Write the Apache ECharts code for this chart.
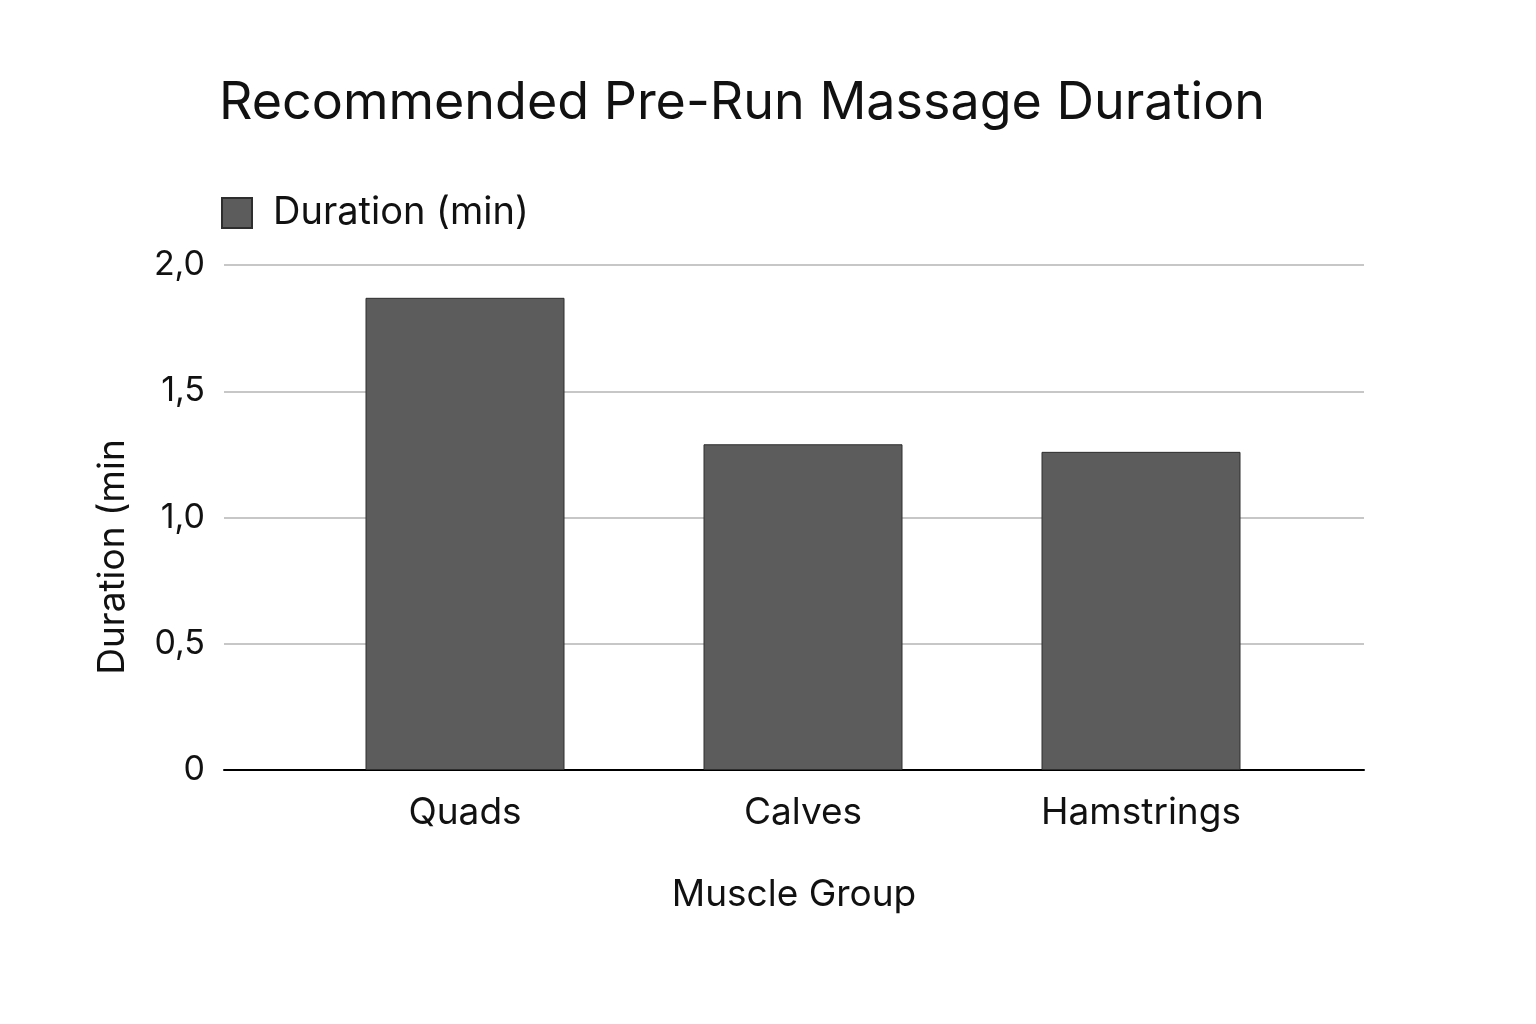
<!DOCTYPE html>
<html>
<head>
<meta charset="utf-8">
<script src="https://cdn.jsdelivr.net/npm/echarts@6/dist/echarts.min.js"></script>
<style>html,body{margin:0;padding:0;background:#fff;}#c{width:1536px;height:1024px;}</style>
</head>
<body>
<div id="c"></div>
<script>
const categories = ['Quads', 'Calves', 'Hamstrings'];
const durations = [1.87, 1.29, 1.26];
const seriesName = 'Duration (min)';
const yTicks = { min: 0, max: 2, interval: 0.5 };

const FONT = 'Inter, "Noto Sans", sans-serif';
const chart = echarts.init(document.getElementById('c'));
chart.setOption({
  backgroundColor: '#ffffff',
  animation: false,
  textStyle: { fontFamily: FONT },
  title: {
    text: 'Recommended Pre-Run Massage Duration',
    left: 214, top: 72,
    textStyle: { fontFamily: FONT, fontSize: 52, fontWeight: 'normal', color: '#111' }
  },
  legend: {
    left: 221, top: 194, padding: 0,
    itemWidth: 30, itemHeight: 30,
    icon: 'rect',
    data: [seriesName],
    textStyle: { fontFamily: FONT, fontSize: 38, color: '#111', padding: [0, 0, 0, 16] }
  },
  graphic: [{
    type: 'text',
    x: 113, y: 557,
    rotation: Math.PI / 2,
    style: {
      text: 'Duration (min',
      fontFamily: FONT, fontSize: 37, fill: '#111',
      align: 'center', verticalAlign: 'middle'
    }
  }],
  grid: [
    { left: 224, right: 172, top: 265, bottom: 254 },
    { left: 296, right: 226, top: 265, bottom: 254 }
  ],
  xAxis: [
    {
      type: 'value', gridIndex: 0, min: 0, max: 1,
      axisLabel: { show: false }, splitLine: { show: false }, axisTick: { show: false },
      axisLine: { show: true, lineStyle: { color: '#000', width: 2 } },
      name: 'Muscle Group', nameLocation: 'middle', nameGap: 106,
      nameTextStyle: { fontFamily: FONT, fontSize: 37, color: '#111' }
    },
    {
      type: 'category', gridIndex: 1, data: categories,
      axisLine: { show: false }, axisTick: { show: false },
      axisLabel: { fontFamily: FONT, fontSize: 37, color: '#111', margin: 24 }
    }
  ],
  yAxis: [
    {
      type: 'value', gridIndex: 0, min: yTicks.min, max: yTicks.max, interval: yTicks.interval,
      axisLine: { show: false }, axisTick: { show: false },
      axisLabel: {
        fontFamily: FONT, fontSize: 34, color: '#111', margin: 19,
        formatter: v => v === 0 ? '0' : v.toFixed(1).replace('.', ',')
      },
      splitLine: { show: true, lineStyle: { color: '#b4b4b4', width: 1.5 } }
    },
    {
      type: 'value', gridIndex: 1, min: yTicks.min, max: yTicks.max, interval: yTicks.interval,
      show: false, splitLine: { show: false }
    }
  ],
  series: [{
    name: seriesName,
    type: 'bar',
    xAxisIndex: 1, yAxisIndex: 1,
    data: durations,
    barWidth: 199,
    itemStyle: { color: '#5c5c5c', borderColor: '#2e2e2e', borderWidth: 1 },
    z: 3
  }]
});
</script>
</body>
</html>
